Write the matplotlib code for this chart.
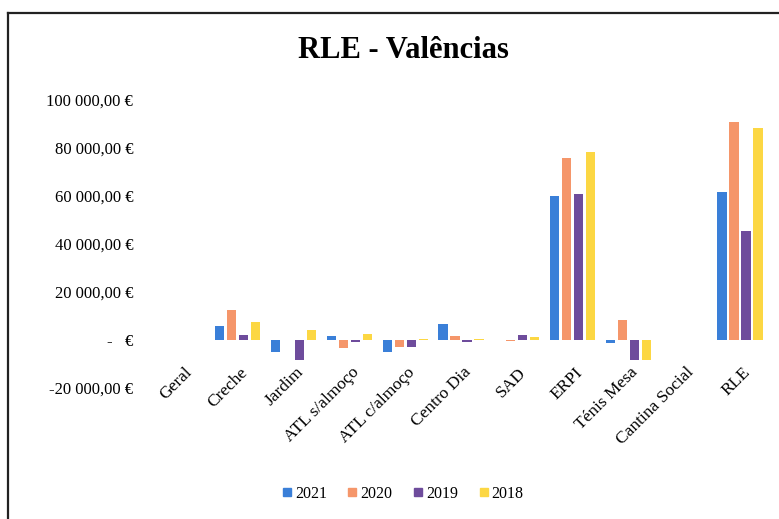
import matplotlib
matplotlib.use("Agg")
import matplotlib.pyplot as plt
import numpy as np
from matplotlib.lines import Line2D

categories = ["Geral", "Creche", "Jardim", "ATL s/almoço", "ATL c/almoço",
              "Centro Dia", "SAD", "ERPI", "Ténis Mesa", "Cantina Social", "RLE"]
years = ["2021", "2020", "2019", "2018"]
v2021 = [0, 6000, -5000, 1500, -5000, 6500, 0, 60000, -1200, 0, 61500]
v2020 = [0, 12500, 0, -3500, -3000, 1500, -500, 76000, 8500, 0, 91000]
v2019 = [0, 2000, -8500, -1000, -3000, -800, 2000, 61000, -8500, 0, 45500]
v2018 = [0, 7500, 4000, 2500, 500, 300, 1200, 78500, -8500, 0, 88500]
series = [v2021, v2020, v2019, v2018]
colors = ["#3a7fd8", "#f5966a", "#6e4c9c", "#fcd743"]
yticks = [-20000, 0, 20000, 40000, 60000, 80000, 100000]

plt.rcParams['font.family'] = ['Liberation Serif', 'DejaVu Serif']

fig = plt.figure(figsize=(7.79, 5.19), dpi=100)
ax = fig.add_axes([154/779, 1-388/519, (768-154)/779, (388-100)/519])

x = np.arange(len(categories))
step = 0.215
width = 0.165
for i, (vals, c, lab) in enumerate(zip(series, colors, years)):
    ax.bar(x + (i - 1.5) * step, vals, width, color=c, label=lab)

ax.set_xlim(-0.5, len(categories) - 0.5)
ax.set_ylim(-20000, 100000)
ax.set_yticks(yticks)

def fmt(v):
    if v == 0:
        return "-   €"
    s = f"{abs(v):,.2f}".replace(",", " ").replace(".", ",")
    return ("-" if v < 0 else "") + s + " €"

ax.set_yticklabels([fmt(v) for v in yticks], fontsize=12)
ax.set_xticks(x + 0.03)
ax.set_xticklabels(categories, rotation=45, ha='right', rotation_mode='anchor', fontsize=12.5)
ax.tick_params(axis='both', length=0)
ax.tick_params(axis='y', pad=15)
ax.tick_params(axis='x', pad=-17)
for s in ax.spines.values():
    s.set_visible(False)

fig.text(403/779, 1-50/519, "RLE - Valências", ha='center', va='center',
         fontsize=22, fontweight='bold')

handles = [Line2D([], [], marker='s', linestyle='none', markersize=6,
                  markerfacecolor=c, markeredgecolor=c) for c in colors]
fig.legend(handles, years, loc='center', bbox_to_anchor=(402/779, 1-494/519),
           ncol=4, frameon=False, fontsize=11.5, handletextpad=0.1,
           columnspacing=1.2, handlelength=0.8)

fig.add_artist(Line2D([8/779, 8/779], [0, 1-13/519], transform=fig.transFigure,
                      color='#222222', lw=1.6))
fig.add_artist(Line2D([8/779, 1], [1-13/519, 1-13/519], transform=fig.transFigure,
                      color='#222222', lw=1.6))

fig.savefig("out.png", dpi=100)
